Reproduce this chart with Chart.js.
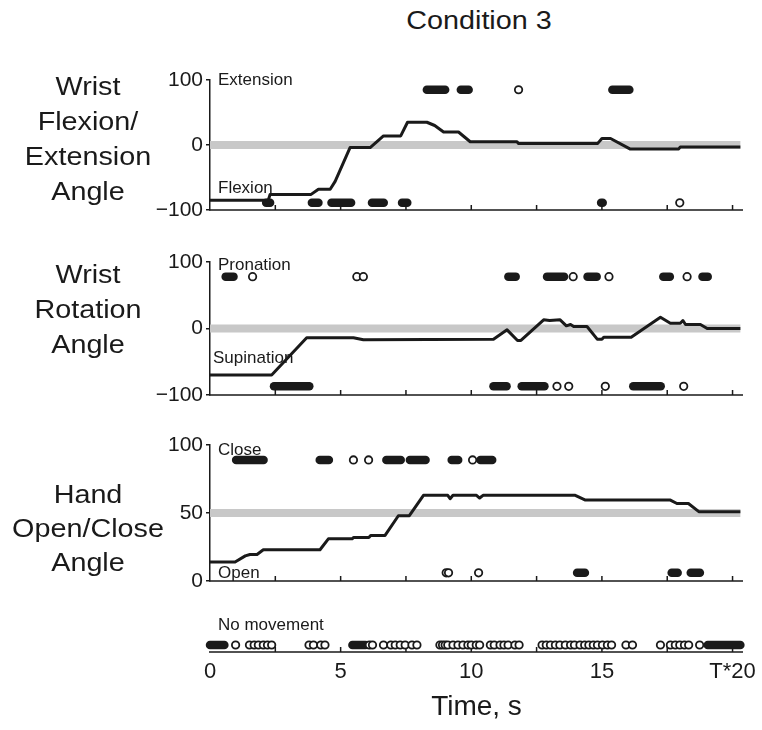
<!DOCTYPE html>
<html>
<head>
<meta charset="utf-8">
<script src="https://cdn.jsdelivr.net/npm/chart.js@4.4.0/dist/chart.umd.min.js"></script>
<style>
body{margin:0;background:#fff;width:762px;height:730px;position:relative;overflow:hidden;font-family:"Liberation Sans",Arial,sans-serif;color:#1a1a1a}
canvas{position:absolute;left:0}
.big{position:absolute;font-size:25px;text-align:center;transform:scaleX(1.15);white-space:nowrap}
.small{position:absolute;font-size:17px;line-height:17px;white-space:nowrap}
</style>
</head>
<body>
<canvas id="c1" width="762" height="168" style="top:60px"></canvas>
<canvas id="c2" width="762" height="171" style="top:242px"></canvas>
<canvas id="c3" width="762" height="174" style="top:425px"></canvas>
<canvas id="c4" width="762" height="112" style="top:618px"></canvas>

<div class="big" style="left:379px;width:200px;top:5px;line-height:30px">Condition 3</div>
<div class="big" style="left:0;width:176px;top:69px;line-height:35px">Wrist<br>Flexion/<br>Extension<br>Angle</div>
<div class="big" style="left:0;width:176px;top:257px;line-height:35px">Wrist<br>Rotation<br>Angle</div>
<div class="big" style="left:0;width:176px;top:477px;line-height:34px">Hand<br>Open/Close<br>Angle</div>

<div class="small" style="left:218px;top:71px">Extension</div>
<div class="small" style="left:218px;top:179px">Flexion</div>
<div class="small" style="left:218px;top:256px">Pronation</div>
<div class="small" style="left:213px;top:349px">Supination</div>
<div class="small" style="left:218px;top:441px">Close</div>
<div class="small" style="left:218px;top:564px">Open</div>
<div class="small" style="left:218px;top:616px">No movement</div>

<script>
// shared time axis
var xMax = 20.4;
var xTickValues = [0, 2.5, 5, 7.5, 10, 12.5, 15, 17.5, 20];
var xLabelValues = [0, 5, 10, 15, 20];
var xLabelText = ['0', '5', '10', '15', 'T*20'];
var bandEnd = 20.3;

// wrist flexion / extension
var flexTime = [0, 2.23, 2.3, 3.87, 4.15, 4.6, 4.79, 5.36, 6.13, 6.64, 7.3, 7.56, 8.3, 8.6, 8.94, 9.51, 9.96, 11.75, 11.8, 14.84, 15.0, 15.33, 16.07, 17.94, 18.0, 20.3];
var flexAngle = [-85, -85, -76, -76, -68, -68, -56, -4, -4, 14, 14, 35, 35, 30, 20, 20, 5, 5, 2.5, 2.5, 10, 10, -6, -6, -3, -3];
var extPills = [[8.3, 9.0], [9.6, 9.9], [15.4, 16.05]];
var extSingles = [11.81];
var flxPills = [[2.15, 2.3], [3.9, 4.15], [4.65, 5.4], [6.2, 6.65], [7.35, 7.55], [14.97, 15.03]];
var flxSingles = [17.98];

// wrist rotation
var rotTime = [0, 2.36, 3.7, 5.49, 5.87, 10.85, 11.37, 11.77, 11.9, 12.77, 13.0, 13.4, 13.64, 13.8, 13.92, 14.43, 14.82, 15.0, 15.07, 16.12, 17.24, 17.62, 18.0, 18.1, 18.2, 18.77, 19.03, 20.3];
var rotAngle = [-70, -70, -14, -14, -17, -16, -2, -18, -18, 13, 12, 13, 4, 6, 3, 3, -16, -16, -13, -13, 17, 8, 8, 12, 6, 6, 0, 0];
var proPills = [[0.6, 0.9], [11.42, 11.7], [12.9, 13.55], [14.45, 14.8], [17.35, 17.6], [18.85, 19.05]];
var proSingles = [1.63, 5.62, 5.87, 13.9, 15.27, 18.26];
var supPills = [[2.45, 3.8], [10.85, 11.35], [11.93, 12.8], [16.2, 17.25]];
var supSingles = [13.28, 13.73, 15.13, 18.13];

// hand open / close
var handTime = [0, 0.96, 1.35, 1.53, 1.8, 2.04, 4.21, 4.53, 5.44, 5.5, 6.08, 6.15, 6.7, 7.21, 7.63, 8.17, 8.76, 9.1, 9.19, 9.3, 10.2, 10.32, 10.45, 13.98, 14.37, 17.62, 17.87, 18.31, 18.71, 20.3];
var handAngle = [14, 14, 18.5, 19.5, 19.5, 23, 23, 31, 31, 32, 32, 33.5, 33.5, 48, 48, 63, 63, 63, 60.5, 63, 63, 61, 63, 63, 59.5, 59.5, 57, 57, 51, 51];
var closePills = [[1.0, 2.05], [4.2, 4.55], [6.75, 7.3], [7.65, 8.25], [9.25, 9.5], [10.35, 10.8]];
var closeSingles = [5.49, 6.07, 10.05];
var openPills = [[14.05, 14.35], [17.67, 17.9], [18.4, 18.75]];
var openSingles = [9.04, 9.13, 10.28];

// no movement
var stillPills = [[0, 0.55], [5.45, 5.95], [19.05, 20.3]];
var stillSingles = [0.98, 1.51, 1.69, 1.85, 2.04, 2.2, 2.36, 3.79, 3.96, 4.24, 4.4, 6.1, 6.22, 6.64, 6.92, 7.09, 7.28, 7.47, 7.73, 7.92,
  8.8, 8.9, 9.0, 9.1, 9.3, 9.49, 9.68, 9.87, 10.0, 10.19, 10.32, 10.73, 10.88, 11.1, 11.25, 11.41, 11.67, 11.83,
  12.71, 12.87, 13.03, 13.22, 13.39, 13.6, 13.8, 13.95, 14.16, 14.34, 14.5, 14.67, 14.83, 15.02, 15.21, 15.37, 15.92, 16.17,
  17.24, 17.62, 17.81, 17.98, 18.16, 18.32, 18.74];

var ink = '#1a1a1a';
var fam = '"Liberation Sans", Arial, sans-serif';

// x axis line with small inward ticks
var bottomAxis = {
  id: 'bottomAxis',
  beforeDatasetsDraw: function(chart) {
    var ctx = chart.ctx, area = chart.chartArea, x = chart.scales.x;
    ctx.save();
    ctx.strokeStyle = ink;
    ctx.lineWidth = 1.5;
    ctx.beginPath();
    ctx.moveTo(area.left - 1, area.bottom);
    ctx.lineTo(area.right, area.bottom);
    xTickValues.forEach(function(v) {
      if (v === 0) return;
      var px = x.getPixelForValue(v);
      ctx.moveTo(px, area.bottom);
      ctx.lineTo(px, area.bottom - 5);
    });
    ctx.stroke();
    ctx.restore();
  }
};

function buildSets(lineT, lineV, bandY, rows) {
  var sets = [];
  rows.forEach(function(r) {
    sets.push({
      data: r.singles.map(function(t) { return {x: t, y: r.y}; }),
      pointRadius: 3.7, borderWidth: 1.8, borderColor: ink, backgroundColor: '#fff', showLine: false
    });
    r.pills.forEach(function(p) {
      sets.push({
        data: [{x: p[0], y: r.y}, {x: p[1], y: r.y}],
        showLine: true, pointRadius: 0, borderWidth: 8.5, borderColor: ink, borderCapStyle: 'round'
      });
    });
  });
  if (lineT) {
    sets.push({
      data: lineT.map(function(t, i) { return {x: t, y: lineV[i]}; }),
      showLine: true, pointRadius: 0, borderWidth: 3, borderColor: ink, borderJoinStyle: 'round', tension: 0
    });
  }
  if (bandY !== null) {
    sets.push({
      data: [{x: 0, y: bandY}, {x: bandEnd, y: bandY}],
      showLine: true, pointRadius: 0, borderWidth: 8, borderColor: '#c8c8c8', borderCapStyle: 'butt'
    });
  }
  sets.forEach(function(s) { s.clip = false; });
  return sets;
}

function makeChart(id, sets, yMin, yMax, yTicks, last) {
  var yScale = last ? {min: -1, max: 1, display: false} : {
    min: yMin, max: yMax,
    afterBuildTicks: function(s) { s.ticks = yTicks.map(function(v) { return {value: v}; }); },
    afterFit: function(s) { s.width = 210; },
    grid: {drawOnChartArea: false, drawTicks: true, tickLength: 4, color: ink, lineWidth: 1.5},
    border: {display: true, color: ink, width: 1.5},
    ticks: {
      color: ink, padding: 3, font: {size: 21, family: fam},
      callback: function(v) { return v < 0 ? '\u2212' + Math.abs(v) : String(v); }
    }
  };
  var xScale = {
    type: 'linear', min: 0, max: xMax, display: !!last,
    afterBuildTicks: function(s) { s.ticks = xTickValues.map(function(v) { return {value: v}; }); },
    afterFit: function(s) { s.height = last ? 78 : 0; },
    grid: {display: false},
    border: {display: false},
    ticks: {
      autoSkip: false, maxRotation: 0, color: ink, padding: 1,
      font: {size: 22, family: fam, lineHeight: 1},
      callback: function(v) {
        var i = xLabelValues.indexOf(v);
        return i < 0 ? '' : xLabelText[i];
      }
    },
    title: {display: !!last, text: 'Time, s', color: ink, font: {size: 28, family: fam}, padding: {top: 0, bottom: 6}}
  };
  new Chart(document.getElementById(id), {
    type: 'scatter',
    data: {datasets: sets},
    plugins: [bottomAxis],
    options: {
      responsive: false, animation: false, events: [],
      layout: {padding: {top: 20, right: 19, bottom: last ? 0 : 18, left: last ? 210 : 0}},
      plugins: {legend: {display: false}, tooltip: {enabled: false}},
      scales: {x: xScale, y: yScale}
    }
  });
}

makeChart('c1', buildSets(flexTime, flexAngle, 0, [
  {y: 85, pills: extPills, singles: extSingles},
  {y: -89, pills: flxPills, singles: flxSingles}
]), -100, 100, [-100, 0, 100], false);

makeChart('c2', buildSets(rotTime, rotAngle, 0, [
  {y: 78, pills: proPills, singles: proSingles},
  {y: -87, pills: supPills, singles: supSingles}
]), -100, 100, [-100, 0, 100], false);

makeChart('c3', buildSets(handTime, handAngle, 50, [
  {y: 89, pills: closePills, singles: closeSingles},
  {y: 6, pills: openPills, singles: openSingles}
]), 0, 100, [0, 50, 100], false);

makeChart('c4', buildSets(null, null, null, [
  {y: 0, pills: stillPills, singles: stillSingles}
]), -1, 1, [], true);
</script>
</body>
</html>
